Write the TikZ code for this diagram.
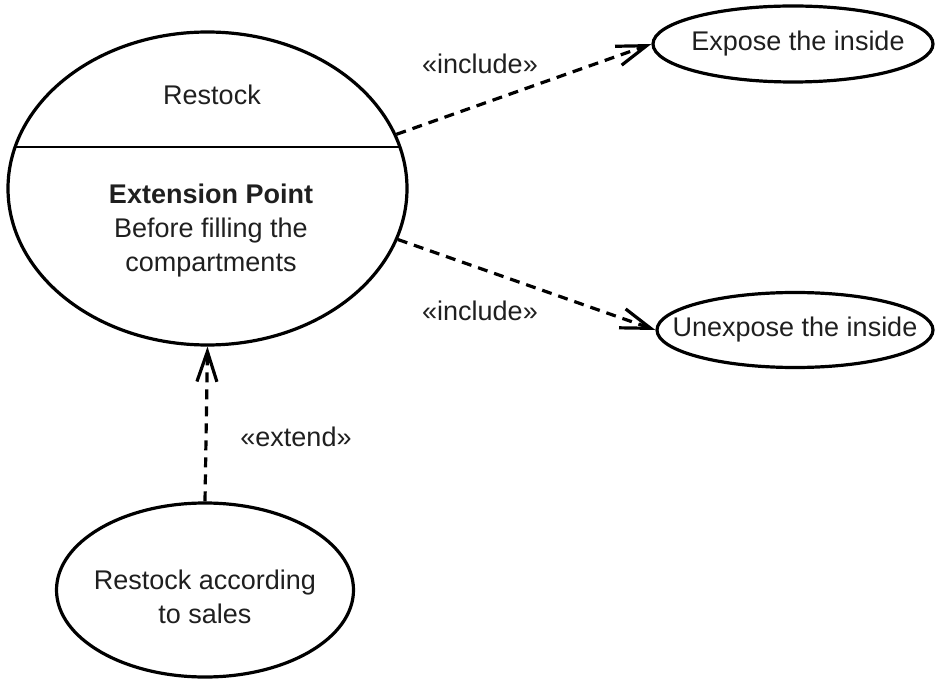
\documentclass[tikz,border=0pt]{standalone}
\usepackage{fontspec}
\setmainfont{Liberation Sans}
\usetikzlibrary{arrows.meta,shapes.geometric}
\tikzset{
  ucase/.style ={draw, ellipse, inner sep=0pt, line width=1.6pt},
  utxt/.style  ={align=center, inner sep=0pt, text=black!88,
                 font=\fontsize{13.5}{17}\selectfont},
  stereo/.style={inner sep=0pt, text=black!88,
                 font=\fontsize{13.5}{17}\selectfont},
  dep/.style   ={-{Straight Barb[length=15pt,width=10pt]}, line width=1.6pt,
                 dash pattern=on 5pt off 3.5pt},
}

\begin{document}
\begin{tikzpicture}[x=0.5pt, y=-0.5pt]
  \useasboundingbox (0,0) rectangle (937,679);

  % use cases
  \node[ucase, minimum width=199.5pt, minimum height=156.5pt]
    (restock) at (207.5,188.5) {};
  \node[ucase, minimum width=140pt, minimum height=38pt]
    (expose) at (793,44) {};
  \node[ucase, minimum width=138pt, minimum height=37.5pt]
    (unexpose) at (795,330) {};
  \node[ucase, minimum width=148.5pt, minimum height=87pt]
    (sales) at (205,590) {};

  % compartment line of the main use case
  \draw[line width=1.1pt] (15.5,147) -- (399.5,147);

  \node[utxt] (restockname) at (212,95) {Restock};
  \node[utxt] (extpoint) at (211,231)
    {\textbf{Extension Point}\\Before filling the\\compartments};
  \node[utxt] (exposename) at (798,44) {Expose the inside};
  \node[utxt] (unexposename) at (795,330) {Unexpose the inside};
  \node[utxt] (salesname) at (205,597) {Restock according\\to sales};

  % dependencies
  \draw[dep] (restock.16) -- (expose.west);
  \draw[dep] (restock.-15) -- (unexpose.west);
  \draw[dep] (sales.north) -- (restock.south);

  \node[stereo] (incA) at (480,64) {«include»};
  \node[stereo] (incB) at (480,311) {«include»};
  \node[stereo] (ext) at (296,437) {«extend»};
\end{tikzpicture}
\end{document}
